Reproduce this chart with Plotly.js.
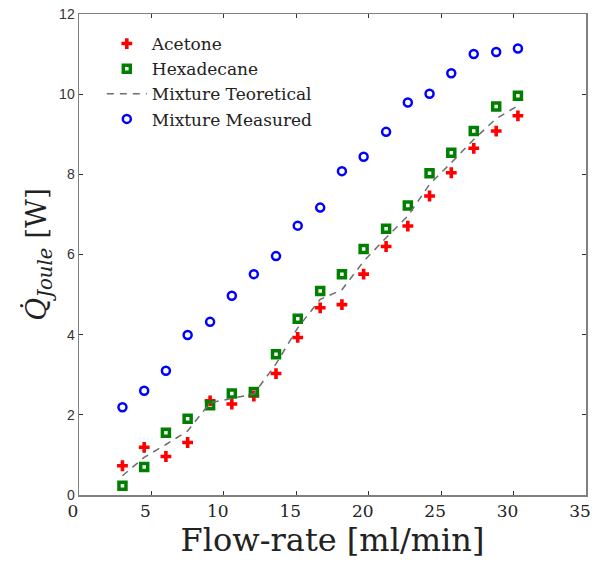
<!DOCTYPE html>
<html>
<head>
<meta charset="utf-8">
<script src="https://cdn.plot.ly/plotly-3.0.1.min.js"></script>
<style>html,body{margin:0;padding:0;background:#fff;}#chart{width:593px;height:562px;}</style>
</head>
<body>
<div id="chart"></div>
<script>
// Flow-rate [ml/min]
const flowRate = [3.0, 4.5, 6.0, 7.5, 9.05, 10.55, 12.07, 13.6, 15.1, 16.65, 18.15, 19.65, 21.2, 22.7, 24.2, 25.7, 27.25, 28.8, 30.3];
// Q Joule [W]
const acetone = [0.73, 1.19, 0.96, 1.31, 2.35, 2.27, 2.47, 3.03, 3.93, 4.67, 4.75, 5.51, 6.20, 6.71, 7.46, 8.04, 8.65, 9.08, 9.46];
const hexadecane = [0.23, 0.70, 1.55, 1.90, 2.24, 2.53, 2.57, 3.51, 4.40, 5.09, 5.51, 6.14, 6.64, 7.22, 8.03, 8.54, 9.08, 9.69, 9.96];
const mixtureTheoretical = [0.48, 0.94, 1.26, 1.60, 2.30, 2.40, 2.52, 3.27, 4.17, 4.88, 5.12, 5.83, 6.42, 6.96, 7.75, 8.29, 8.87, 9.39, 9.71];
const mixtureMeasured = [2.19, 2.60, 3.10, 3.99, 4.32, 4.97, 5.51, 5.96, 6.72, 7.17, 8.08, 8.44, 9.06, 9.79, 10.01, 10.52, 11.00, 11.05, 11.14];
const seriesNames = ["Acetone", "Hexadecane", "Mixture Teoretical", "Mixture Measured"];
const xTickVals = [0, 5, 10, 15, 20, 25, 30, 35];
const yTickVals = [0, 2, 4, 6, 8, 10, 12];

const serif = "DejaVu Serif, Liberation Serif, serif";

const traces = [
  {x: flowRate, y: acetone, name: seriesNames[0], mode: "markers", type: "scatter",
   marker: {symbol: "cross", size: 9, color: "#ff0000", line: {width: 0}}},
  {x: flowRate, y: hexadecane, name: seriesNames[1], mode: "markers", type: "scatter",
   marker: {symbol: "square-open", size: 7, color: "#007f00", line: {width: 3.5, color: "#007f00"}}},
  {x: flowRate, y: mixtureTheoretical, name: seriesNames[2], mode: "lines", type: "scatter",
   line: {color: "#6e6e6e", width: 1.5, dash: "7px,6px"}},
  {x: flowRate, y: mixtureMeasured, name: seriesNames[3], mode: "markers", type: "scatter",
   marker: {symbol: "circle-open", size: 8, color: "#0000ff", line: {width: 2.5, color: "#0000ff"}}}
];

const layout = {
  width: 593, height: 562,
  margin: {l: 79, r: 7, t: 14, b: 67, pad: 0},
  paper_bgcolor: "#ffffff", plot_bgcolor: "#ffffff",
  showlegend: true,
  legend: {x: 0.045, y: 0.975, xanchor: "left", yanchor: "top", bgcolor: "rgba(0,0,0,0)",
           borderwidth: 0, font: {family: serif, size: 17, color: "#222"}, tracegroupgap: 0,
           itemwidth: 40},
  xaxis: {
    range: [0, 35], tickvals: xTickVals, ticktext: xTickVals.map(String),
    ticks: "inside", ticklen: 4, tickwidth: 1, tickcolor: "#333",
    showline: true, linecolor: "#808080", linewidth: 1.5, mirror: "ticks",
    showgrid: false, zeroline: false, ticklabeloverflow: "allow", ticklabelshift: -6,
    tickfont: {family: serif, size: 17, color: "#222"},
    title: {text: "Flow-rate [ml/min]", font: {family: serif, size: 32, color: "#222"}, standoff: 4},
    automargin: false
  },
  yaxis: {
    range: [0, 12], tickvals: yTickVals, ticktext: yTickVals.map(String),
    ticks: "inside", ticklen: 4, tickwidth: 1, tickcolor: "#333",
    showline: true, linecolor: "#808080", linewidth: 1.5, mirror: "ticks",
    showgrid: false, zeroline: false, ticklabeloverflow: "allow",
    tickfont: {family: "Liberation Sans, Arial, sans-serif", size: 14, color: "#333"},
    title: {text: "<i>Q\u0307</i><sub><i>Joule</i></sub> [W]", font: {family: serif, size: 28, color: "#222"}, standoff: 4},
    automargin: false
  }
};

Plotly.newPlot("chart", traces, layout, {displayModeBar: false, staticPlot: true});
</script>
</body>
</html>
